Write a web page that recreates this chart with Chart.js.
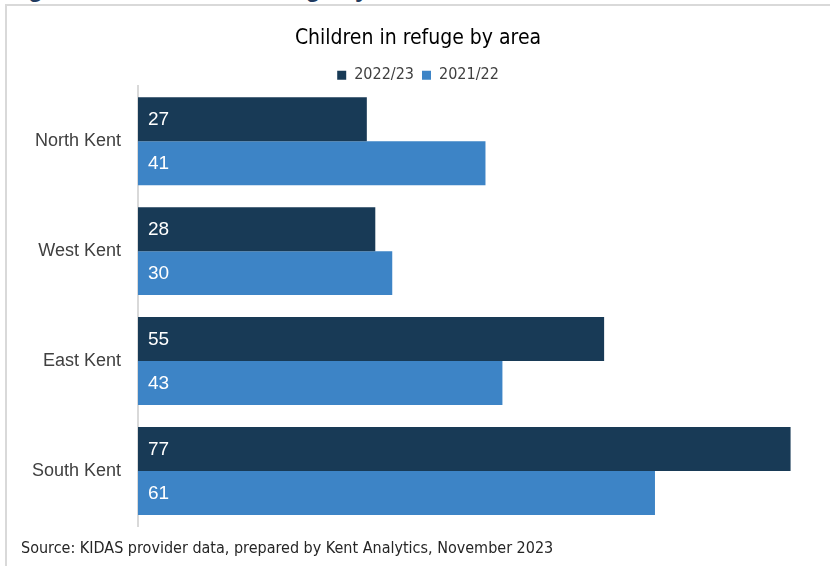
<!DOCTYPE html>
<html>
<head>
<meta charset="utf-8">
<script src="https://cdn.jsdelivr.net/npm/chart.js@4"></script>
<style>
  html, body { margin: 0; padding: 0; background: #fff; }
  #wrap { position: relative; width: 830px; height: 566px; overflow: hidden; }
  #heading {
    position: absolute; left: 7px; top: -25px;
    font: bold 24px "Liberation Sans", Arial, sans-serif; color: #1F3A5F;
    white-space: nowrap;
  }
  #frame {
    position: absolute; left: 5px; top: 4px; width: 840px; height: 600px;
    border-top: 2px solid #D9D9D9; border-left: 2px solid #D9D9D9;
  }
  #chart { position: absolute; left: 0; top: 0; }
  #source {
    position: absolute; left: 21px; top: 538px;
    font: 16px "Liberation Sans Narrow", "DejaVu Sans Condensed", sans-serif; color: #262626;
    white-space: nowrap;
  }
</style>
</head>
<body>
<div id="wrap">
  <div id="heading">Figure 10: Children in refuge by area</div>
  <div id="frame"></div>
  <canvas id="chart" width="830" height="566"></canvas>
  <div id="source">Source: KIDAS provider data, prepared by Kent Analytics, November 2023</div>
</div>
<script>
const areas = ['North Kent', 'West Kent', 'East Kent', 'South Kent'];
const children2022_23 = [27, 28, 55, 77];
const children2021_22 = [41, 30, 43, 61];
const seriesNames = ['2022/23', '2021/22'];

const NARROW = '"Liberation Sans Narrow", "DejaVu Sans Condensed", sans-serif';
const SANS = '"Liberation Sans", Arial, sans-serif';

// Writes each bar's value in white just inside its base
const barValues = {
  id: 'barValues',
  afterDatasetsDraw(chart) {
    const ctx = chart.ctx;
    ctx.save();
    ctx.fillStyle = '#FFFFFF';
    ctx.font = '19px ' + SANS;
    ctx.textAlign = 'left';
    ctx.textBaseline = 'middle';
    chart.data.datasets.forEach((ds, i) => {
      chart.getDatasetMeta(i).data.forEach((bar, j) => {
        ctx.fillText(String(ds.data[j]), bar.base + 10, bar.y + 1);
      });
    });
    ctx.restore();
  }
};

// Nudges the legend row down so it sits closer to the bars
const legendNudge = {
  id: 'legendNudge',
  afterLayout(chart) {
    const lg = chart.legend;
    if (lg) { lg.top += 7; lg.bottom += 7; }
  }
};

new Chart(document.getElementById('chart'), {
  type: 'bar',
  data: {
    labels: areas,
    datasets: [
      { label: seriesNames[0], data: children2022_23, backgroundColor: '#183A56' },
      { label: seriesNames[1], data: children2021_22, backgroundColor: '#3D84C6' }
    ]
  },
  options: {
    indexAxis: 'y',
    responsive: false,
    animation: false,
    devicePixelRatio: 1,
    datasets: { bar: { categoryPercentage: 0.8, barPercentage: 1.0 } },
    layout: { padding: { left: 20, right: 14, bottom: 40, top: 0 } },
    plugins: {
      title: {
        display: true,
        text: 'Children in refuge by area',
        color: '#000000',
        font: { family: NARROW, size: 21, weight: 'normal' },
        padding: { top: 26, bottom: 1 }
      },
      legend: {
        position: 'top',
        labels: {
          color: '#404040',
          font: { family: NARROW, size: 16 },
          boxWidth: 9,
          boxHeight: 9,
          padding: 8
        }
      },
      tooltip: { enabled: false }
    },
    scales: {
      x: { display: false, min: 0, max: 80 },
      y: {
        grid: { display: false, drawTicks: false },
        border: { display: true, color: '#D9D9D9', width: 2 },
        ticks: { color: '#404040', font: { family: SANS, size: 18 }, padding: 17 },
        afterFit(scale) { scale.width = 118; }
      }
    }
  },
  plugins: [barValues, legendNudge]
});
</script>
</body>
</html>
